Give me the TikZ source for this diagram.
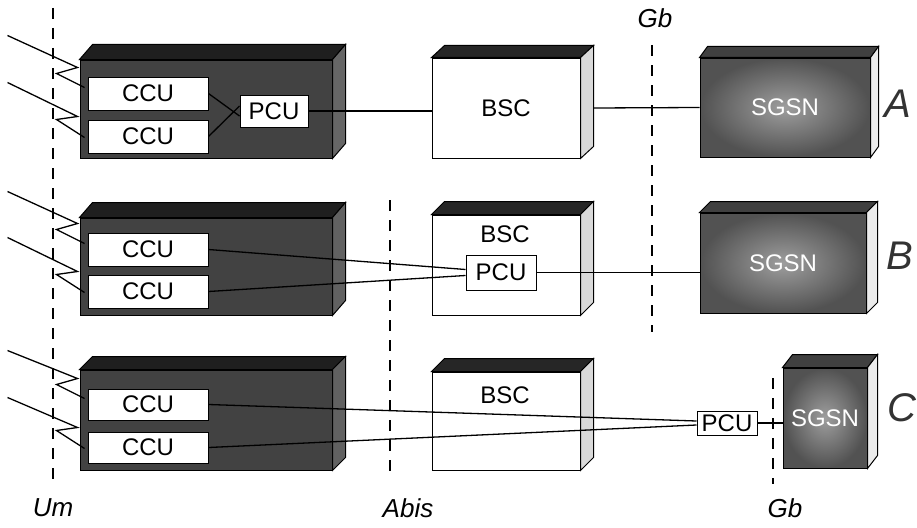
\documentclass[tikz,border=0pt]{standalone}
\usepackage{fontspec}
\setmainfont{Liberation Sans}
\usetikzlibrary{calc}
\tikzset{
  edge/.style={draw=black, line width=1pt},
  bts/.style={edge, fill=black!74, minimum width=252pt, inner sep=0pt},
  bsc/.style={edge, fill=white, minimum width=148pt, inner sep=0pt},
  sgsn/.style={edge, inner color=black!38, outer color=black!68, inner sep=0pt, text=white, font=\fontsize{24}{24}\selectfont},
  unit/.style={edge, fill=white, inner sep=0pt, font=\fontsize{24}{24}\selectfont},
  wire/.style={draw=black, line width=1.3pt},
  guide/.style={draw=black, line width=1.6pt, dash pattern=on 11pt off 9pt},
  lbl/.style={font=\itshape\fontsize{26}{26}\selectfont, inner sep=1pt},
  rowlbl/.style={font=\itshape\fontsize{40}{40}\selectfont, text=black!80, inner sep=0pt},
  plain/.style={font=\fontsize{24}{24}\selectfont, inner sep=0pt}
}
\newcommand{\boxfaces}[5]{%
  \filldraw[#4, draw=black, line width=1pt] (#1.north west) -- ++(#2,#3) -- ($(#1.north east)+(#2,#3)$) -- (#1.north east) -- cycle;
  \filldraw[#5, draw=black, line width=1pt] (#1.north east) -- ++(#2,#3) -- ($(#1.south east)+(#2,#3)$) -- (#1.south east) -- cycle;}
\begin{document}
\begin{tikzpicture}[x=1pt,y=-1pt]
\useasboundingbox (0,0) rectangle (917,527);
% interface labels and guides
\node[lbl] (um) at (53,508) {Um};
\node[lbl] (abis) at (408,508) {Abis};
\node[lbl] (gbb) at (785,508) {Gb};
\node[lbl] (gbt) at (655,18) {Gb};
\coordinate (umtop) at (53,8);
\coordinate (abtop) at (390,200);
\coordinate (abbot) at (390,478);
\coordinate (gbtbot) at (652,332);
\coordinate (gbbtop) at (773,378);
\draw[guide] (umtop) -- (53,488);
\draw[guide] (abtop) -- (abbot);
\draw[guide] (652,45) -- (gbtbot);
\draw[guide] (gbbtop) -- (773,484);

% ---------------- Row A ----------------
\node[bts, minimum height=98pt] (btsA) at (206,109) {};
\boxfaces{btsA}{13}{-15}{black!88}{black!60}
\node[unit, minimum width=120pt, minimum height=33pt] (ccuA1) at (148,93.5) {CCU};
\node[unit, minimum width=120pt, minimum height=33pt] (ccuA2) at (148,136.5) {CCU};
\node[unit, minimum width=68pt, minimum height=32pt] (pcuA) at (274,111) {PCU};
\node[bsc, minimum height=100pt] (bscA) at (506,108) {};
\boxfaces{bscA}{13}{-12}{black!85}{black!15}
\node[plain] at (bscA) {BSC};
\node[sgsn, minimum width=170pt, minimum height=99pt] (sgsnA) at (785,107.5) {SGSN};
\boxfaces{sgsnA}{8}{-11}{black!75}{black!8}
\node[rowlbl] (rA) at (898,104) {A};
\draw[wire] (ccuA1.east) -- ([yshift=-5pt]pcuA.west);
\draw[wire] (ccuA2.east) -- ([yshift=5pt]pcuA.west);
\draw[wire] (pcuA.east) -- (pcuA.east -| bscA.west);
\draw[wire] ([xshift=13pt]bscA.east) -- (sgsnA.west);
\draw[wire] ([shift={(-3pt,6pt)}]ccuA1.west) -- ++(-28,-14) -- ++(21,-6) -- ++(-70,-32);
\draw[wire] ([shift={(-3pt,-1pt)}]ccuA2.west) -- ++(-28,-18) -- ++(21,-3) -- ++(-70,-34);

% ---------------- Row B ----------------
\node[bts, minimum height=97pt] (btsB) at (206,266.5) {};
\boxfaces{btsB}{13}{-15}{black!88}{black!62}
\node[unit, minimum width=120pt, minimum height=33pt] (ccuB1) at (148,249.5) {CCU};
\node[unit, minimum width=120pt, minimum height=33pt] (ccuB2) at (148,291.5) {CCU};
\node[bsc, minimum height=100pt] (bscB) at (506,265) {};
\boxfaces{bscB}{13}{-13}{black!85}{black!15}
\node[plain] (bscBt) at (505,234) {BSC};
\node[unit, minimum width=70pt, minimum height=35pt] (pcuB) at (501,272.5) {PCU};
\node[sgsn, minimum width=166pt, minimum height=100pt] (sgsnB) at (783,263) {SGSN};
\boxfaces{sgsnB}{11}{-11}{black!75}{black!8}
\node[rowlbl] (rB) at (900,256) {B};
\draw[wire] (ccuB1.east) -- ([yshift=3pt]pcuB.west);
\draw[wire] (ccuB2.east) -- ([yshift=-3pt]pcuB.west);
\draw[wire] (pcuB.east) -- (pcuB.east -| sgsnB.west);
\draw[wire] ([shift={(-3pt,6pt)}]ccuB1.west) -- ++(-28,-14) -- ++(21,-6) -- ++(-70,-32);
\draw[wire] ([shift={(-3pt,-1pt)}]ccuB2.west) -- ++(-28,-18) -- ++(21,-3) -- ++(-70,-34);

% ---------------- Row C ----------------
\node[bts, minimum height=100pt] (btsC) at (206,420) {};
\boxfaces{btsC}{13}{-13}{black!88}{black!62}
\node[unit, minimum width=120pt, minimum height=31pt] (ccuC1) at (148,404.5) {CCU};
\node[unit, minimum width=120pt, minimum height=31pt] (ccuC2) at (148,447.5) {CCU};
\node[bsc, minimum height=98pt] (bscC) at (506,421) {};
\boxfaces{bscC}{13}{-13}{black!85}{black!15}
\node[plain] (bscCt) at (505,395) {BSC};
\node[unit, minimum width=60pt, minimum height=24pt] (pcuC) at (727,423) {PCU};
\node[sgsn, minimum width=84pt, minimum height=100pt] (sgsnC) at (825,418) {SGSN};
\boxfaces{sgsnC}{10}{-13}{black!75}{black!8}
\node[rowlbl] (rC) at (902,408) {C};
\draw[wire] (ccuC1.east) -- ([yshift=2pt]pcuC.west);
\draw[wire] (ccuC2.east) -- ([yshift=-2pt]pcuC.west);
\draw[wire] (pcuC.east) -- (pcuC.east -| sgsnC.west);
\draw[wire] ([shift={(-3pt,6pt)}]ccuC1.west) -- ++(-28,-14) -- ++(21,-6) -- ++(-70,-28);
\draw[wire] ([shift={(-3pt,-1pt)}]ccuC2.west) -- ++(-28,-18) -- ++(21,-3) -- ++(-70,-30);
\end{tikzpicture}
\end{document}
